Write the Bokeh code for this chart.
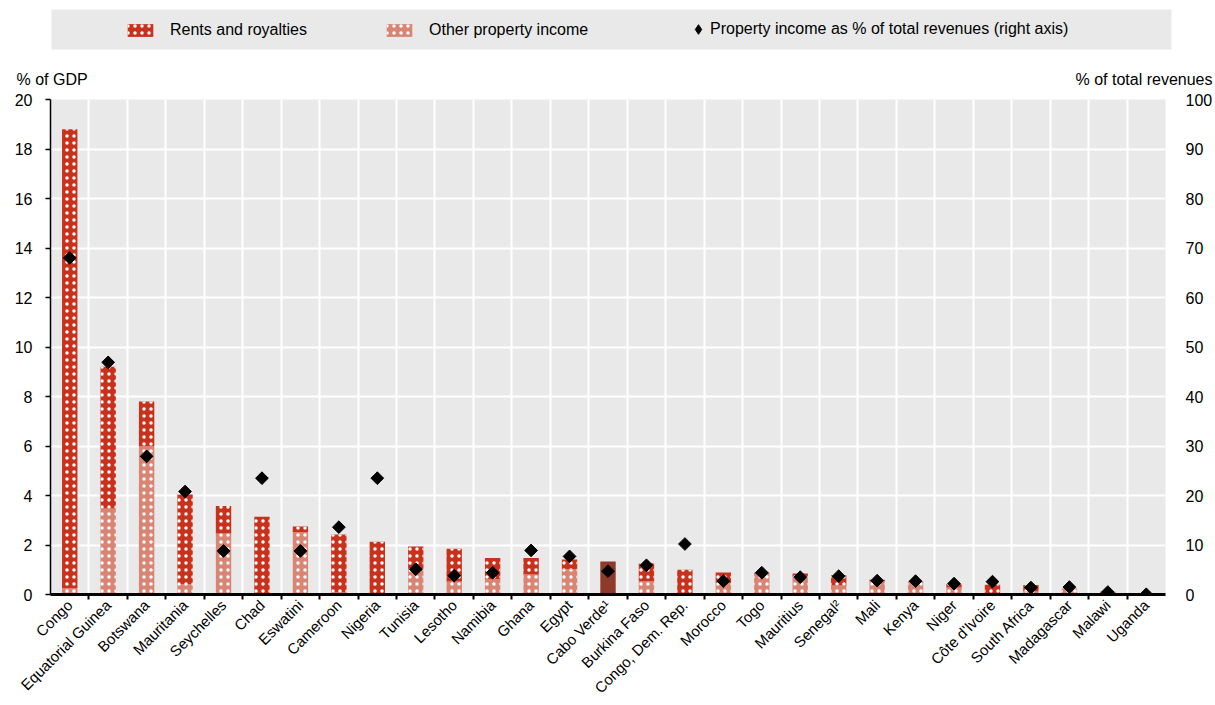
import math
from bokeh.plotting import figure
from bokeh.layouts import column
from bokeh.models import (ColumnDataSource, Range1d, LinearAxis, FixedTicker,
                          Legend, LegendItem, BoxAnnotation, Label)
from bokeh.embed import file_html
from bokeh.resources import INLINE

# ---------------- data ----------------
countries = ["Congo", "Equatorial Guinea", "Botswana", "Mauritania", "Seychelles",
             "Chad", "Eswatini", "Cameroon", "Nigeria", "Tunisia", "Lesotho",
             "Namibia", "Ghana", "Egypt", "Cabo Verde\u00b9", "Burkina Faso",
             "Congo, Dem. Rep.", "Morocco", "Togo", "Mauritius", "Senegal\u00b2",
             "Mali", "Kenya", "Niger", "C\u00f4te d'Ivoire", "South Africa",
             "Madagascar", "Malawi", "Uganda"]

# % of GDP
other_property = [0.25, 3.47, 6.00, 0.42, 2.46, 0.00, 2.52, 0.08, 0.00, 0.95,
                  0.53, 0.63, 0.81, 1.02, 0.00, 0.54, 0.00, 0.46, 0.84, 0.72,
                  0.36, 0.54, 0.54, 0.28, 0.05, 0.12, 0.24, 0.06, 0.00]
rents_royalties = [18.55, 5.73, 1.80, 3.62, 1.12, 3.14, 0.23, 2.34, 2.13, 0.99,
                   1.32, 0.84, 0.66, 0.39, 0.00, 0.72, 1.00, 0.43, 0.04, 0.13,
                   0.42, 0.06, 0.00, 0.14, 0.34, 0.26, 0.00, 0.05, 0.00]
# total property income without breakdown (Cabo Verde)
unsplit_total = [0, 0, 0, 0, 0, 0, 0, 0, 0, 0, 0, 0, 0, 0, 1.33,
                 0, 0, 0, 0, 0, 0, 0, 0, 0, 0, 0, 0, 0, 0]
# % of total revenues (right axis)
pct_total_revenues = [68.0, 46.9, 27.9, 20.8, 8.8, 23.5, 8.8, 13.6, 23.5, 5.1,
                      3.8, 4.4, 8.9, 7.7, 4.7, 5.9, 10.2, 2.7, 4.4, 3.5,
                      3.7, 2.8, 2.7, 2.2, 2.6, 1.4, 1.5, 0.5, 0.05]

gdp_ticks = [0, 2, 4, 6, 8, 10, 12, 14, 16, 18, 20]
rev_ticks = [0, 10, 20, 30, 40, 50, 60, 70, 80, 90, 100]

legend_labels = ["Rents and royalties", "Other property income",
                 "Property income as % of total revenues (right axis)"]
left_title = "% of GDP"
right_title = "% of total revenues"

# ---------------- styling ----------------
FONT = "Liberation Sans"
RENTS = "#c8321c"
OTHER = "#d98574"
UNSPLIT = "#8e3a2b"
PANEL = "#e9e9e9"
W = 1215
HDR_H = 90
MAIN_H = 615

HATCH = dict(hatch_pattern="dot", hatch_color="white", hatch_scale=7,
             hatch_weight=0.8)

n = len(countries)
xs = list(range(n))
src = ColumnDataSource(dict(x=xs, country=countries, other=other_property,
                            rents=rents_royalties, unsplit=unsplit_total,
                            pct=pct_total_revenues))

# ---------------- main chart ----------------
p = figure(width=W, height=MAIN_H,
           x_range=Range1d(-0.5, n - 0.5), y_range=Range1d(0, 20),
           output_backend="svg", toolbar_location=None,
           min_border_left=50, min_border_right=48,
           min_border_top=9, min_border_bottom=111,
           background_fill_color=PANEL, border_fill_color="white",
           outline_line_color=None, frame_align=False)
p.extra_y_ranges = {"pct": Range1d(0, 100)}

bars = p.vbar_stack(["other", "rents"], x="x", width=0.4, source=src,
                    fill_color=[OTHER, RENTS], line_color=None, **HATCH)
p.vbar(x="x", top="unsplit", width=0.4, source=src,
       fill_color=UNSPLIT, line_color=None)
dots = p.scatter("x", "pct", source=src, marker="square", angle=math.pi / 4,
                 size=9, color="black", y_range_name="pct")

xax = p.xaxis[0]
xax.ticker = FixedTicker(ticks=xs, minor_ticks=[i + 0.5 for i in range(n - 1)])
xax.major_label_overrides = {i: c for i, c in enumerate(countries)}
xax.major_label_orientation = math.pi / 4
xax.major_tick_line_color = None
xax.major_tick_out = 0
xax.minor_tick_out = 5
xax.minor_tick_in = 0
xax.minor_tick_line_width = 2
xax.minor_tick_line_color = "black"
xax.axis_line_width = 3
xax.axis_line_color = "black"
xax.major_label_standoff = 3
xax.major_label_text_font = FONT
xax.major_label_text_font_size = "15px"
xax.major_label_text_color = "black"

yax = p.yaxis[0]
yax.ticker = FixedTicker(ticks=gdp_ticks)
yax.major_tick_out = 5
yax.major_tick_in = 0
yax.major_tick_line_width = 1.5
yax.axis_line_width = 1.5
yax.minor_tick_line_color = None
yax.major_label_standoff = 13
yax.major_label_text_font = FONT
yax.major_label_text_font_size = "16px"
yax.major_label_text_color = "black"

rax = LinearAxis(y_range_name="pct", ticker=FixedTicker(ticks=rev_ticks),
                 axis_line_color=None, major_tick_line_color=None,
                 minor_tick_line_color=None, major_tick_out=0, major_tick_in=0,
                 major_label_standoff=20,
                 major_label_text_font=FONT, major_label_text_font_size="16px",
                 major_label_text_color="black")
p.add_layout(rax, "right")

p.xgrid.grid_line_color = None
p.xgrid.minor_grid_line_color = "white"
p.xgrid.minor_grid_line_width = 2
p.ygrid.grid_line_color = "white"
p.ygrid.grid_line_width = 2

# ---------------- header: legend band and axis titles ----------------
hdr = figure(width=W, height=HDR_H, x_range=Range1d(0, W),
             y_range=Range1d(0, HDR_H), x_axis_location=None,
             y_axis_location=None, min_border=0, output_backend="svg",
             toolbar_location=None, outline_line_color=None,
             background_fill_color="white", border_fill_color="white",
             frame_align=False)
hdr.grid.visible = False

# legend proxies: one point each, kept outside the visible header range
proxy = ColumnDataSource(dict(x=[-10], top=[-10], y=[-10]))
lg_rents = hdr.vbar(x="x", top="top", width=1, source=proxy,
                    fill_color=RENTS, line_color=None, **HATCH)
lg_other = hdr.vbar(x="x", top="top", width=1, source=proxy,
                    fill_color=OTHER, line_color=None, **HATCH)
lg_dot = hdr.scatter(x="x", y="y", source=proxy, marker="diamond",
                     color="black")

hdr.add_layout(BoxAnnotation(left=51, right=1171, top=HDR_H - 9,
                             bottom=HDR_H - 49, fill_color=PANEL,
                             fill_alpha=1, line_color=None))

common = dict(orientation="horizontal", padding=0, margin=0,
              background_fill_alpha=0, border_line_color=None,
              label_text_font=FONT, label_text_font_size="16px",
              label_text_color="black", label_height=16)
leg_a = Legend(items=[LegendItem(label=legend_labels[0], renderers=[lg_rents]),
                      LegendItem(label=legend_labels[1], renderers=[lg_other])],
               location=(124, HDR_H - 39), spacing=73, glyph_width=32,
               glyph_height=16, label_standoff=14, label_width=140, **common)
leg_b = Legend(items=[LegendItem(label=legend_labels[2], renderers=[lg_dot])],
               location=(686, HDR_H - 41), glyph_width=24, glyph_height=24,
               label_standoff=0, **common)
hdr.add_layout(leg_a)
hdr.add_layout(leg_b)

hdr.add_layout(Label(x=16, y=HDR_H - 79, text=left_title, text_font=FONT,
                     text_font_size="16px", text_color="black",
                     text_align="left", text_baseline="middle"))
hdr.add_layout(Label(x=1212, y=HDR_H - 79, text=right_title, text_font=FONT,
                     text_font_size="16px", text_color="black",
                     text_align="right", text_baseline="middle"))

layout = column(hdr, p, spacing=0)
open("out.html", "w").write(file_html(layout, INLINE))
